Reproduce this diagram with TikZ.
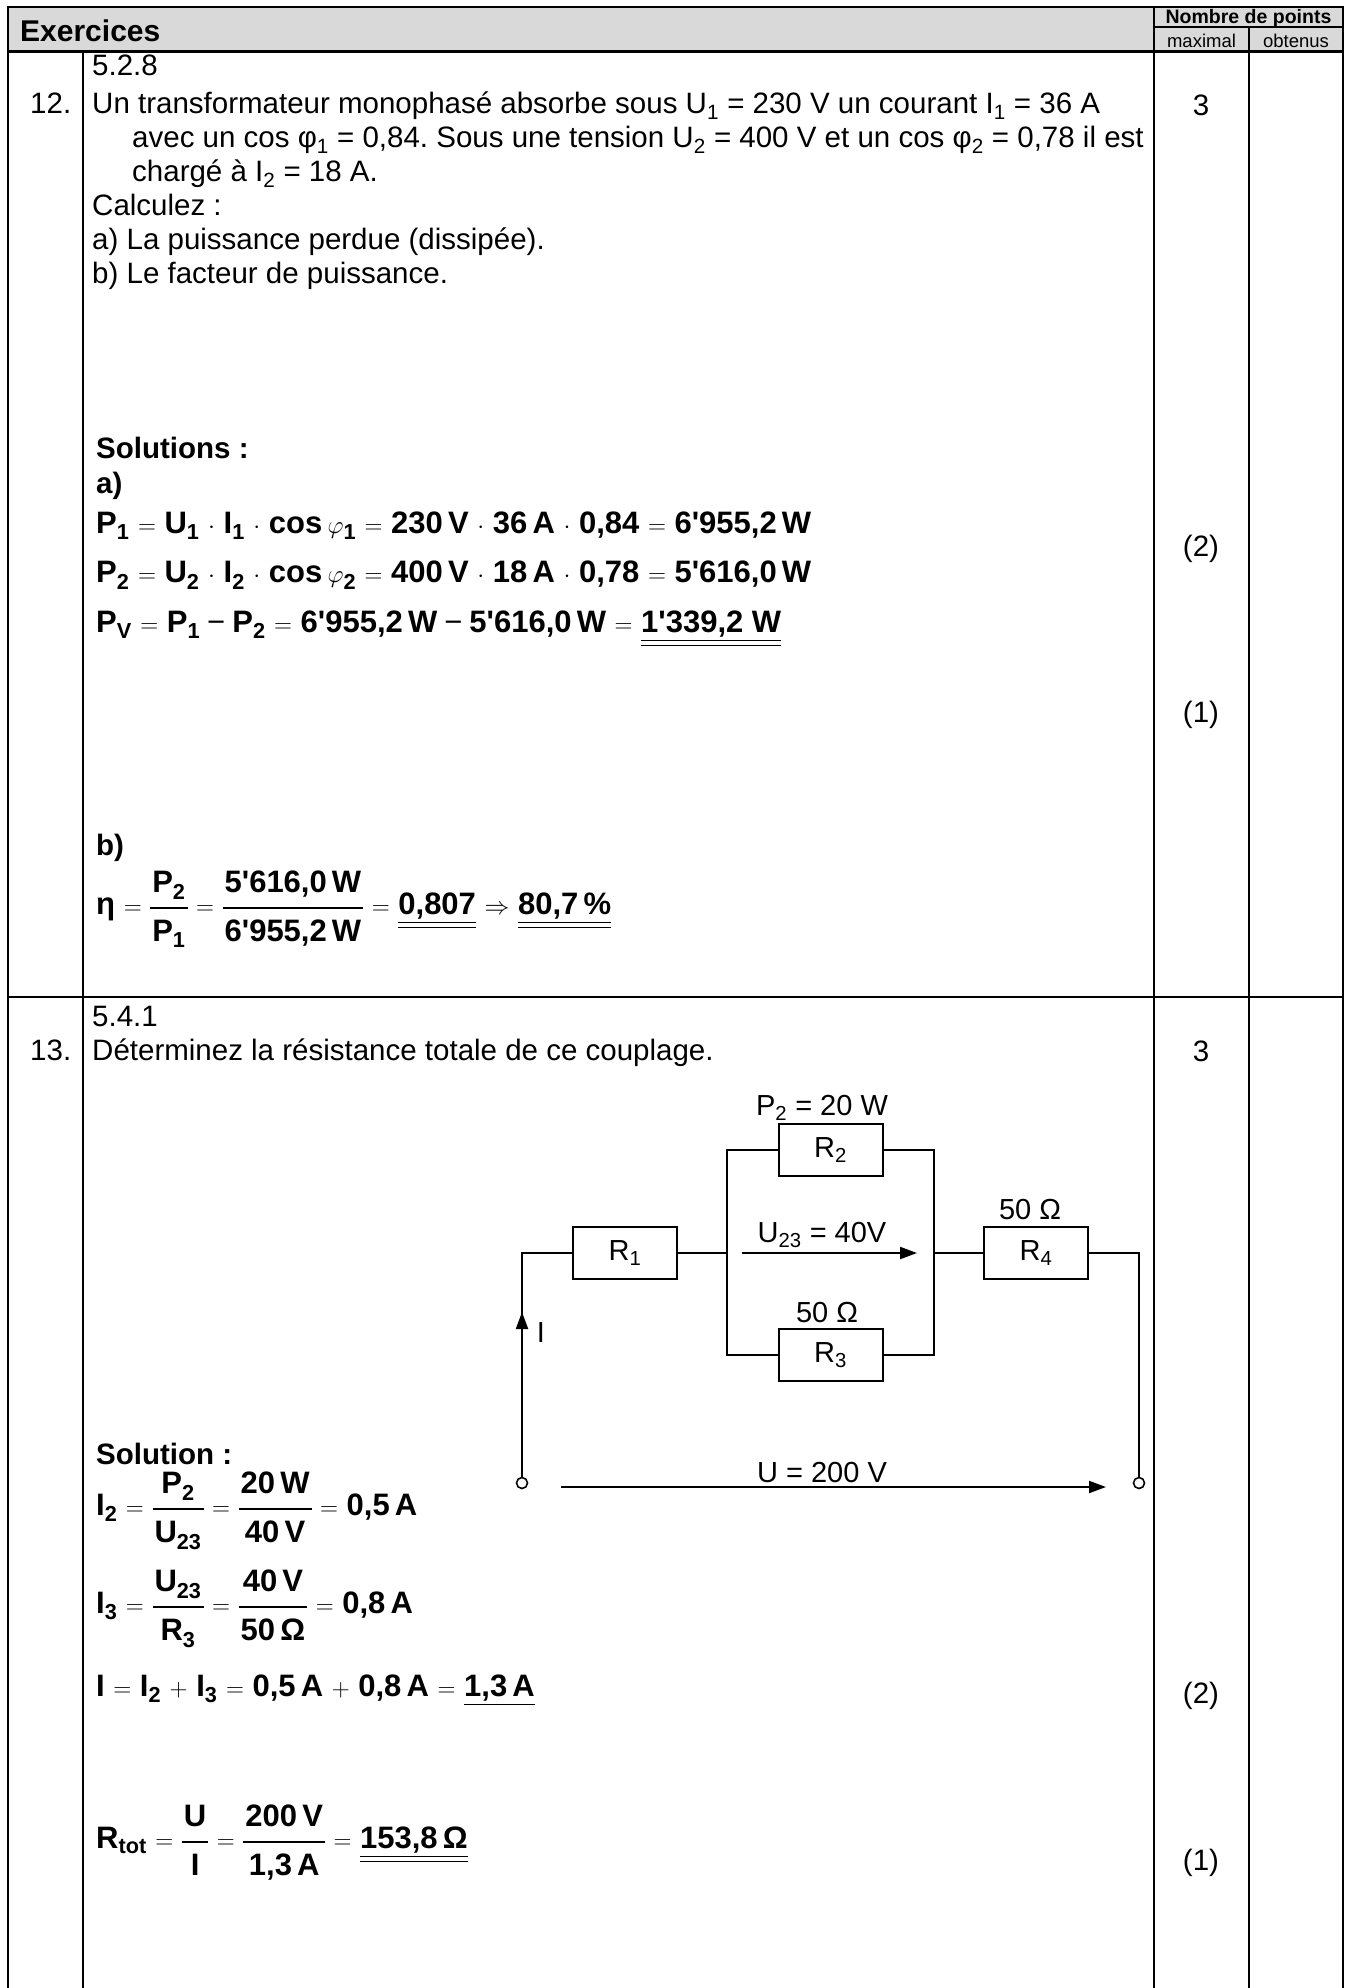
\documentclass[tikz,border=0pt]{standalone}
\usepackage{fontspec}
\setmainfont{Liberation Sans}[Ligatures=TeXOff]
\usepackage{amsmath}
\usetikzlibrary{arrows.meta}
\definecolor{hdr}{RGB}{217,217,217}
\newcommand\fr[2]{\ensuremath{\vcenter{\hbox{\def\arraystretch{1.27}\setlength\arrayrulewidth{1.6pt}\begin{tabular}{@{\hspace{2pt}}c@{\hspace{2pt}}}#1\\\hline #2\end{tabular}}}}}
\newcommand\dul[1]{$\underline{\underline{\hbox{#1}}}$}
\newcommand\sul[1]{$\underline{\hbox{#1}}$}
\newcommand\sbs[1]{\textsubscript{#1}}
\newcommand\mns{\hspace{7pt}{\mdseries −}\hspace{7pt}}
\begin{document}
\frenchspacing
\begin{tikzpicture}[x=1pt,y=-1pt,
  txt/.style={anchor=base west, inner sep=0pt, font=\fontsize{29.5}{34}\selectfont\frenchspacing},
  btxt/.style={anchor=base west, inner sep=0pt, font=\fontsize{29.5}{34}\selectfont\bfseries},
  eq/.style={anchor=base west, inner sep=0pt, font=\fontsize{31}{37}\selectfont\bfseries},
  pts/.style={inner sep=0pt, font=\fontsize{29.5}{34}\selectfont},
  gridline/.style={line width=2pt},
  res/.style={draw, line width=2pt, minimum width=104pt, minimum height=52pt, inner sep=0pt, font=\fontsize{29}{34}\selectfont},
  lbl/.style={inner sep=0pt, font=\fontsize{29}{34}\selectfont},
  wire/.style={line width=2pt},
  arr/.style={line width=2pt, -{Triangle[length=17pt,width=12pt]}},
  term/.style={circle, draw, line width=1.6pt, minimum size=11pt, inner sep=0pt, fill=white}
]
\useasboundingbox (0,0) rectangle (1349,1988);
% ---------- table ----------
\fill[hdr] (8,7) rectangle (1343,52);
\draw[gridline] (8,1988) -- (8,7) -- (1343,7) -- (1343,1988);
\draw[gridline] (1154,7) -- (1154,1988);
\draw[gridline] (1154,27) -- (1343,27);
\draw[gridline] (1249,27) -- (1249,1988);
\draw[gridline] (83,52) -- (83,1988);
\draw[line width=3pt] (8,52) -- (1343,52);
\draw[line width=2.5pt] (8,997) -- (1343,997);
% header
\node[anchor=west, inner sep=0pt, font=\fontsize{30}{34}\selectfont\bfseries] (ttl) at (20,31) {Exercices};
\node[inner sep=0pt, font=\fontsize{19.5}{21}\selectfont\bfseries] (np) at (1248.5,18) {Nombre de points};
\node[inner sep=0pt, font=\fontsize{18.5}{21}\selectfont] (mx) at (1201.5,40.5) {maximal};
\node[inner sep=0pt, font=\fontsize{18.5}{21}\selectfont] (ob) at (1296,40.5) {obtenus};
% ---------- row 12 ----------
\node[txt] (r12a) at (92,75.5) {5.2.8};
\node[txt] (n12) at (30,113.5) {12.};
\node[txt] (q1) at (92,113.5) {Un transformateur monophasé absorbe sous U\sbs{1} = 230 V un courant I\sbs{1} = 36 A};
\node[txt] (q2) at (132,147.5) {avec un cos φ\sbs{1} = 0,84. Sous une tension U\sbs{2} = 400 V et un cos φ\sbs{2} = 0,78 il est};
\node[txt] (q3) at (132,181.5) {chargé à I\sbs{2} = 18 A.};
\node[txt] (q4) at (92,215.5) {Calculez :};
\node[txt] (q5) at (92,249.5) {a) La puissance perdue (dissipée).};
\node[txt] (q6) at (92,283.5) {b) Le facteur de puissance.};
\node[pts] (m12) at (1201,105) {3};
\node[pts] (m12a) at (1201,549) {(2)};
\node[pts] (m12b) at (1201,715) {(1)};
\node[btxt] (sol12) at (96,458.5) {Solutions :};
\node[btxt] (a12) at (96,493.5) {a)};
\node[eq] (e1) at (96,533) {P\sbs{1} $=$ U\sbs{1} $\cdot$ I\sbs{1} $\cdot$ cos\,$\varphi$\sbs{1} $=$ 230\,V $\cdot$ 36\,A $\cdot$ 0,84 $=$ 6'955,2\,W};
\node[eq] (e2) at (96,582.5) {P\sbs{2} $=$ U\sbs{2} $\cdot$ I\sbs{2} $\cdot$ cos\,$\varphi$\sbs{2} $=$ 400\,V $\cdot$ 18\,A $\cdot$ 0,78 $=$ 5'616,0\,W};
\node[eq] (e3) at (96,632) {P\sbs{V} $=$ P\sbs{1}\mns P\sbs{2} $=$ 6'955,2\,W\mns 5'616,0\,W $=$ \dul{1'339,2 W}};
\node[btxt] (b12) at (96,855.5) {b)};
\node[eq] (e4) at (96,914) {η $=$ \fr{P\sbs{2}}{P\sbs{1}} $=$ \fr{5'616,0\,W}{6'955,2\,W} $=$ \dul{0,807} $\Rightarrow$ \dul{80,7\,\%}};
% ---------- row 13 ----------
\node[txt] (r13a) at (92,1026.5) {5.4.1};
\node[txt] (n13) at (30,1060.5) {13.};
\node[txt] (q7) at (92,1060.5) {Déterminez la résistance totale de ce couplage.};
\node[pts] (m13) at (1201,1051) {3};
\node[pts] (m13a) at (1201,1696) {(2)};
\node[pts] (m13b) at (1201,1863) {(1)};
% circuit
\node[res] (R1) at (625,1253) {R\sbs{1}};
\node[res] (R2) at (830.5,1150) {R\sbs{2}};
\node[res] (R3) at (830.5,1355) {R\sbs{3}};
\node[res] (R4) at (1036,1253) {R\sbs{4}};
\node[term] (T1) at (522,1483) {};
\node[term] (T2) at (1139,1483) {};
\coordinate (cl) at (522,1253);
\coordinate (cr) at (1139,1253);
\coordinate (jl) at (727,1253);
\coordinate (jr) at (933.5,1253);
\draw[wire] (T1.north) -- (cl) -- (R1.west);
\draw[wire] (R1.east) -- (jl);
\draw[wire] (R2.west) -| (jl) |- (R3.west);
\draw[wire] (R2.east) -| (jr) |- (R3.east);
\draw[wire] (jr) -- (R4.west);
\draw[wire] (R4.east) -- (cr) -- (T2.north);
\coordinate (ua) at (742,1253);
\coordinate (ub) at (917,1253);
\draw[arr] (ua) -- (ub);
\coordinate (ia) at (522,1345);
\coordinate (ib) at (522,1312);
\draw[arr] (ia) -- (ib);
\coordinate (va) at (561,1487);
\coordinate (vb) at (1106,1487);
\draw[arr] (va) -- (vb);
\node[lbl] (lp2) at (822,1108) {P\sbs{2} = 20 W};
\node[lbl] (lu23) at (822,1235) {U\sbs{23} = 40V};
\node[lbl] (lr4) at (1030,1210) {50 Ω};
\node[lbl] (lr3) at (827,1313) {50 Ω};
\node[lbl] (li) at (541,1333) {I};
\node[lbl] (lu) at (822,1472) {U = 200 V};
% solution 13
\node[btxt] (sol13) at (96,1464.5) {Solution :};
\node[eq] (e5) at (96,1515) {I\sbs{2} $=$ \fr{P\sbs{2}}{U\sbs{23}} $=$ \fr{20\,W}{40\,V} $=$ 0,5\,A};
\node[eq] (e6) at (96,1613) {I\sbs{3} $=$ \fr{U\sbs{23}}{R\sbs{3}} $=$ \fr{40\,V}{50\,Ω} $=$ 0,8\,A};
\node[eq] (e7) at (96,1696) {I $=$ I\sbs{2} $+$ I\sbs{3} $=$ 0,5\,A $+$ 0,8\,A $=$ \sul{1,3\,A}};
\node[eq] (e8) at (96,1848) {R\sbs{tot} $=$ \fr{U}{I} $=$ \fr{200\,V}{1,3\,A} $=$ \dul{153,8\,Ω}};
\end{tikzpicture}
\end{document}
